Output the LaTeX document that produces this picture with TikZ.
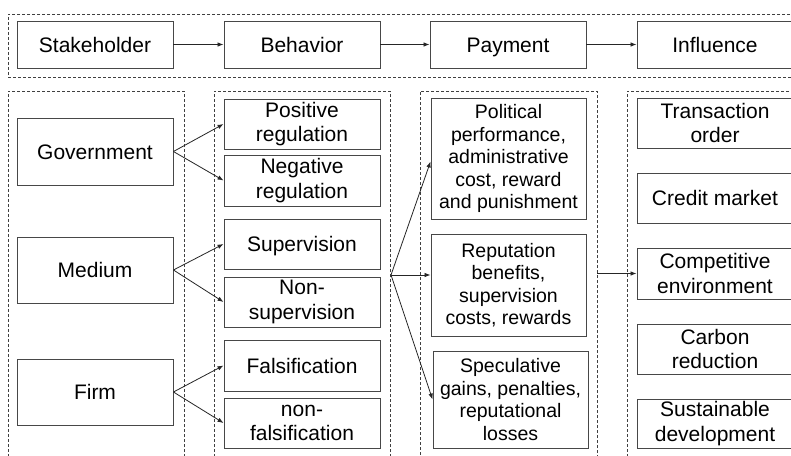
\documentclass[tikz,border=0pt]{standalone}
\usepackage{fontspec}
\setmainfont{Liberation Sans}
\usetikzlibrary{arrows.meta}
\tikzset{
  box/.style={draw=black!72, line width=0.9pt, rectangle, inner sep=0pt, align=center,
    minimum width=156pt, font=\fontsize{21}{24.5}\selectfont, text=black},
  one/.style={text height=16pt, text depth=1pt},
  paybox/.style={box, font=\fontsize{19.5}{22.5}\selectfont},
  panel/.style={draw=black!75, line width=0.8pt, dash pattern=on 3pt off 2pt, rectangle, inner sep=0pt},
  conn/.style={draw=black!85, line width=0.8pt, -{Latex[length=6pt,width=4.5pt]}}
}
\begin{document}
\begin{tikzpicture}[x=1pt,y=-1pt]
\useasboundingbox (0,0) rectangle (791,455);
\clip (0,0) rectangle (791,455);
\fill[white] (0,0) rectangle (791,455);

% dashed panels
\node[panel, minimum width=792pt, minimum height=63pt] (ptop) at (404,45.5) {};
\node[panel, minimum width=176pt, minimum height=380pt] (p1) at (96,281) {};
\node[panel, minimum width=176pt, minimum height=380pt] (p2) at (302,281) {};
\node[panel, minimum width=177pt, minimum height=380pt] (p3) at (508.5,281) {};
\node[panel, minimum width=176pt, minimum height=380pt] (p4) at (715,281) {};

% top row
\node[box, one, minimum height=47pt] (stk) at (95,44.5) {Stakeholder};
\node[box, one, minimum height=47pt] (beh) at (302,44.5) {Behavior};
\node[box, one, minimum height=47pt] (pay) at (508,44.5) {Payment};
\node[box, one, minimum height=47pt] (inf) at (715,44.5) {Influence};
\draw[conn] (stk) -- (beh);
\draw[conn] (beh) -- (pay);
\draw[conn] (pay) -- (inf);

% stakeholders
\node[box, one, minimum height=67pt] (gov) at (95,151.5) {Government};
\node[box, one, minimum height=66pt] (med) at (95,270) {Medium};
\node[box, one, minimum height=66pt] (firm) at (95,392) {Firm};

% behaviors
\node[box, minimum height=50pt] (pos) at (302,124) {Positive\\regulation};
\node[box, minimum height=51pt] (neg) at (302,180.5) {Negative\\regulation};
\node[box, one, minimum height=50pt] (sup) at (302,244) {Supervision};
\node[box, minimum height=50pt] (nsup) at (302,302) {Non-\\supervision};
\node[box, one, minimum height=51pt] (fal) at (302,365.5) {Falsification};
\node[box, minimum height=50pt] (nfal) at (302,423) {non-\\falsification};

\draw[conn] (gov.east) -- (pos.west);
\draw[conn] (gov.east) -- (neg.west);
\draw[conn] (med.east) -- (sup.west);
\draw[conn] (med.east) -- (nsup.west);
\draw[conn] (firm.east) -- (fal.west);
\draw[conn] (firm.east) -- (nfal.west);

% payments
\node[paybox, minimum width=155pt, minimum height=121pt] (pol) at (508.5,158.5) {Political\\performance,\\administrative\\cost, reward\\and punishment};
\node[paybox, minimum width=155pt, minimum height=102pt] (rep) at (508.5,285) {Reputation\\benefits,\\supervision\\costs, rewards};
\node[paybox, minimum width=155pt, minimum height=97pt] (spec) at (510.5,399.5) {Speculative\\gains, penalties,\\reputational\\losses};

\coordinate (fan) at (391,275);
\draw[conn] (fan) -- ([yshift=-3pt]pol.west);
\draw[conn] (fan) -- (fan -| rep.west);
\draw[conn] (fan) -- (spec.west);

% influences
\node[box, minimum height=50pt] (tra) at (715,123) {Transaction\\order};
\node[box, one, minimum height=50pt] (cre) at (715,198) {Credit market};
\node[box, minimum height=51pt] (com) at (715,273.5) {Competitive\\environment};
\node[box, minimum height=50pt] (car) at (715,349) {Carbon\\reduction};
\node[box, minimum height=49pt] (sus) at (715,423.5) {Sustainable\\development};

\draw[conn] (p3.east |- com.west) -- (com.west);
\end{tikzpicture}
\end{document}
